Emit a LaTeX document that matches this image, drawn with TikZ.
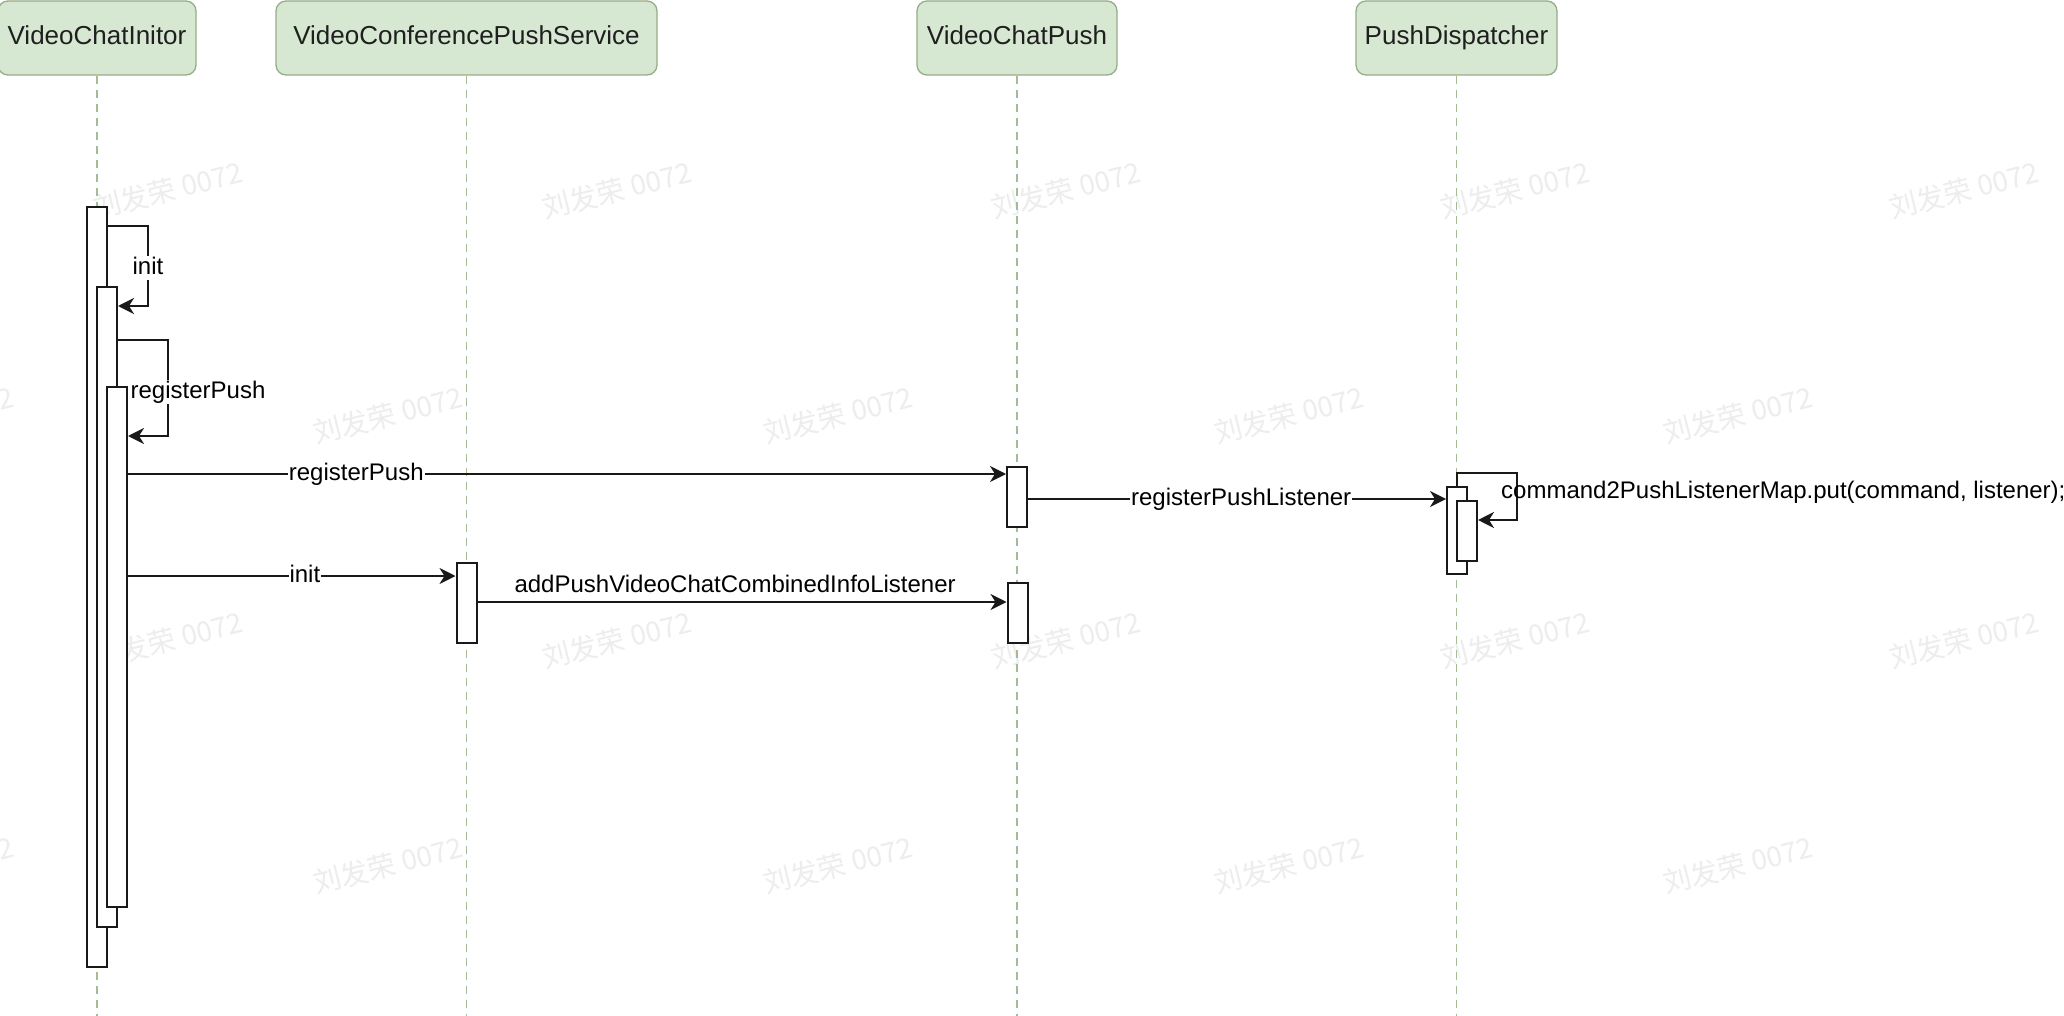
\documentclass[tikz,border=0pt]{standalone}
\usepackage{fontspec}
\setmainfont{Liberation Sans}
\newfontfamily\cjkfont{Noto Sans CJK SC}
\usetikzlibrary{arrows.meta,calc}
\definecolor{hdrfill}{HTML}{D6E7D2}
\definecolor{hdrdraw}{HTML}{94AE88}
\definecolor{lifeln}{HTML}{A3BC94}
\definecolor{wmark}{HTML}{EDEDED}
\begin{document}
\begin{tikzpicture}[x=1pt,y=-1pt,
  head/.style={draw=hdrdraw, fill=hdrfill, rounded corners=10pt, line width=1.3pt,
    minimum height=74pt, inner sep=0pt, text height=19pt, text depth=6pt,
    font=\fontsize{26}{30}\selectfont, text=black!88},
  life/.style={draw=lifeln, line width=1.5pt, dash pattern=on 8pt off 6pt},
  actbar/.style={rectangle, draw=black!90, fill=white, line width=2pt, minimum width=20pt, inner sep=0pt},
  msg/.style={draw=black!90, line width=2pt, -{Stealth[length=16pt,width=16pt,inset=5pt]}},
  lbl/.style={font=\fontsize{24}{28}\selectfont, inner sep=1pt, fill=white, text=black,
    text height=17.5pt, text depth=5pt},
  wm/.style={font=\cjkfont\fontsize{28}{32}\selectfont, text=wmark, rotate=14}
]
\path[use as bounding box, fill=white] (0,0) rectangle (2064,1016);

% watermarks
\foreach \x in {168,617,1066,1515,1964} {
  \foreach \y in {190,640} { \node[wm] at (\x,\y) {刘发荣 0072}; }
}
\foreach \x in {-61,388,838,1289,1738} {
  \foreach \y in {415,865} { \node[wm] at (\x,\y) {刘发荣 0072}; }
}

\coordinate (bottom) at (0,1016);

% lifeline heads
\node[head, minimum width=198pt] (h1) at (97,38) {VideoChatInitor};
\node[head, minimum width=381pt] (h2) at (466.5,38) {VideoConferencePushService};
\node[head, minimum width=200pt] (h3) at (1017,38) {VideoChatPush};
\node[head, minimum width=201pt] (h4) at (1456.5,38) {PushDispatcher};

% lifelines
\foreach \h in {h1,h2,h3,h4} { \draw[life] (\h.south) -- (\h.south |- bottom); }

% activation bars
\node[actbar, minimum height=760pt] (a1) at (97,587) {};
\node[actbar, minimum height=640pt] (a2) at (107,607) {};
\node[actbar, minimum height=520pt] (a3) at (117,647) {};
\node[actbar, minimum height=80pt] (s1) at (466.5,603) {};
\node[actbar, minimum height=60pt] (p1) at (1017,497) {};
\node[actbar, minimum height=60pt] (p2) at (1017.5,613) {};
\node[actbar, minimum height=87pt] (d1) at (1457,530.5) {};
\node[actbar, minimum height=60pt] (d2) at (1467,531) {};

% self call: init
\draw[msg] ($(a1.north east)+(0,20)$) -- ++(40,0)
  -- ++(0,80) node[lbl, midway, yshift=-2pt] {init}
  -- ($(a2.north east)+(0,20)$);

% self call: registerPush
\draw[msg] ($(a2.north east)+(0,54)$) -- ++(50,0)
  -- ++(0,96) node[lbl, midway, xshift=30pt, yshift=-4pt] {registerPush}
  -- ($(a3.north east)+(0,50)$);

% registerPush -> VideoChatPush
\coordinate (m1) at ($(p1.north west)+(0,8)$);
\draw[msg] (a3.east |- m1) -- node[lbl, pos=0.26] {registerPush} (m1);

% init -> VideoConferencePushService
\coordinate (m2) at ($(s1.north west)+(0,14)$);
\draw[msg] (a3.east |- m2) -- node[lbl, pos=0.54] {init} (m2);

% addPushVideoChatCombinedInfoListener
\coordinate (m3) at ($(p2.north west)+(0,20)$);
\draw[msg] (s1.east |- m3) -- node[lbl, fill=none, pos=0.487, yshift=16pt] {addPushVideoChatCombinedInfoListener} (m3);

% registerPushListener
\coordinate (m4) at ($(d1.north west)+(0,13)$);
\draw[msg] (p1.east |- m4) -- node[lbl, pos=0.51] {registerPushListener} (m4);

% self call on PushDispatcher
\draw[msg] (d1.north) -- ++(0,-13) -- ++(60,0) -- ++(0,47)
  -- ($(d2.north east)+(0,20)$);
\node[lbl, fill=none, anchor=west, inner sep=0pt] (cmd) at ($(d2.north east)+(23,-8)$)
  {command2PushListenerMap.put(command, listener);};
\end{tikzpicture}
\end{document}
